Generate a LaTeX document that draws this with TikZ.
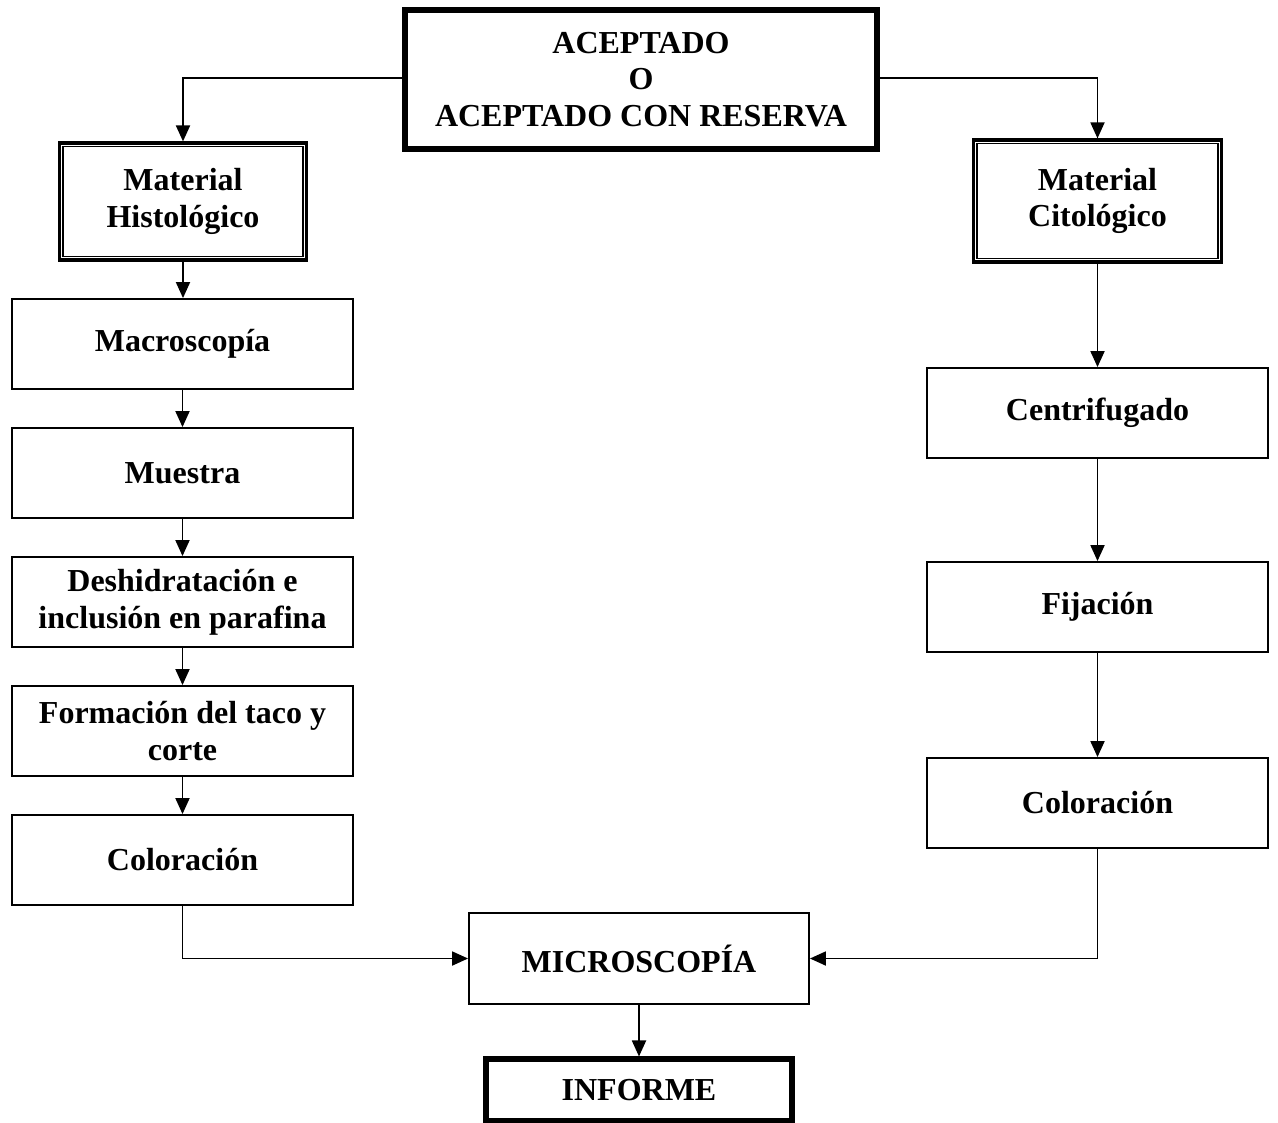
\documentclass[tikz,border=0pt]{standalone}
\usepackage{fontspec}
\setmainfont{Liberation Serif}
\usetikzlibrary{arrows.meta,positioning,calc}
\tikzset{
  box/.style={draw, line width=1.4pt, rectangle, align=center, inner sep=0pt,
    font=\fontsize{24}{27.5}\selectfont\bfseries},
  thickbox/.style={box, line width=3.8pt},
  dblbox/.style={box, line width=2.4pt},
  conn/.style={line width=1.4pt, -{Triangle[length=12pt,width=10.5pt]}},
}
\begin{document}
\begin{tikzpicture}[x=0.75pt,y=-0.75pt]
\useasboundingbox (0,0) rectangle (1278,1122);
% top
\node[thickbox, minimum width=472*0.75pt, minimum height=139*0.75pt] (top) at (641,79.5)
  {ACEPTADO\\O\\ACEPTADO CON RESERVA};
% material boxes (double border)
\node[dblbox, minimum width=247*0.75pt, minimum height=117*0.75pt] (mh) at (183,201.5)
  {Material\\Histológico};
\draw[line width=1.3pt] ($(mh.north west)+(5,5)$) rectangle ($(mh.south east)+(-5,-5)$);
\node[dblbox, minimum width=248*0.75pt, minimum height=122*0.75pt] (mc) at (1097.5,201)
  {Material\\Citológico};
\draw[line width=1.3pt] ($(mc.north west)+(5,5)$) rectangle ($(mc.south east)+(-5,-5)$);
% left column
\node[box, minimum width=341*0.75pt, minimum height=90*0.75pt] (macro) at (182.5,344) {Macroscopía};
\node[box, minimum width=341*0.75pt, minimum height=90*0.75pt] (muestra) at (182.5,473) {Muestra};
\node[box, minimum width=341*0.75pt, minimum height=90*0.75pt] (desh) at (182.5,602) {Deshidratación e\\inclusión en parafina};
\node[box, minimum width=341*0.75pt, minimum height=90*0.75pt] (form) at (182.5,731) {Formación del taco y\\corte};
\node[box, minimum width=341*0.75pt, minimum height=90*0.75pt] (colL) at (182.5,860) {Coloración};
% right column
\node[box, minimum width=341*0.75pt, minimum height=90*0.75pt] (centr) at (1097.5,413) {Centrifugado};
\node[box, minimum width=341*0.75pt, minimum height=90*0.75pt] (fij) at (1097.5,607) {Fijación};
\node[box, minimum width=341*0.75pt, minimum height=90*0.75pt] (colR) at (1097.5,803) {Coloración};
% bottom
\node[box, minimum width=340*0.75pt, minimum height=91*0.75pt] (micro) at (639,958.5) {MICROSCOPÍA};
\node[thickbox, minimum width=306*0.75pt, minimum height=62*0.75pt] (inf) at (639,1090) {INFORME};
% connectors
\draw[conn] (top.west |- 0,78) -| (mh.north);
\draw[conn] (top.east |- 0,78) -| (mc.north);
\draw[conn] (mh.south) -- (mh.south |- macro.north);
\draw[conn] (macro) -- (muestra);
\draw[conn] (muestra) -- (desh);
\draw[conn] (desh) -- (form);
\draw[conn] (form) -- (colL);
\draw[conn] (colL.south) |- (micro.west);
\draw[conn] (mc.south) -- (centr.north);
\draw[conn] (centr) -- (fij);
\draw[conn] (fij) -- (colR);
\draw[conn] (colR.south) |- (micro.east);
\draw[conn] (micro) -- (inf);
\end{tikzpicture}
\end{document}
